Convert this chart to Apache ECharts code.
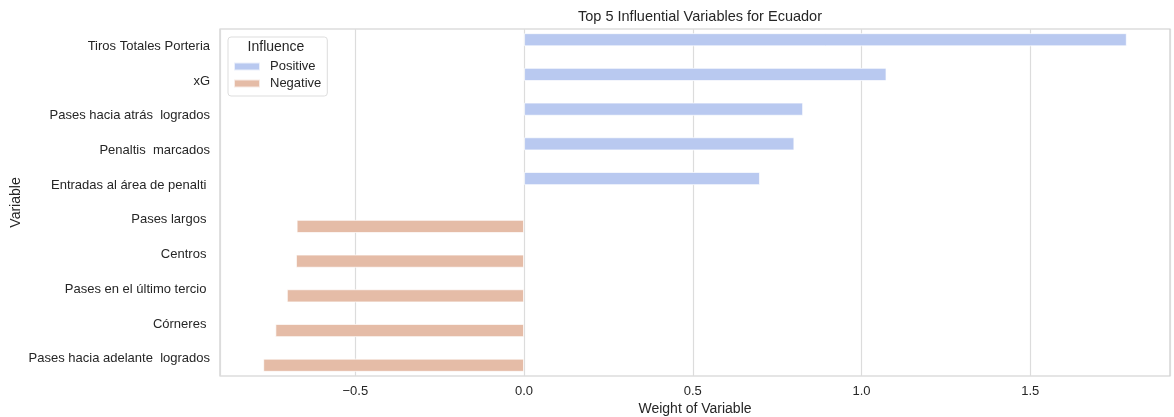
<!DOCTYPE html>
<html>
<head>
<meta charset="utf-8">
<script src="https://cdn.jsdelivr.net/npm/echarts@6/dist/echarts.min.js"></script>
<style>
  html, body { margin: 0; padding: 0; background: #fff; }
  #chart { width: 1174px; height: 417px; }
</style>
</head>
<body>
<div id="chart"></div>
<script>
const categories = [
  "Tiros Totales Porteria",
  "xG",
  "Pases hacia atrás  logrados",
  "Penaltis  marcados",
  "Entradas al área de penalti ",
  "Pases largos ",
  "Centros ",
  "Pases en el último tercio ",
  "Córneres ",
  "Pases hacia adelante  logrados"
];
const positiveValues = [1.786, 1.074, 0.827, 0.801, 0.699, null, null, null, null, null];
const negativeValues = [null, null, null, null, null, -0.674, -0.676, -0.703, -0.737, -0.773];
const seriesNames = ["Positive", "Negative"];
const xMin = -0.901, xMax = 1.914;

const FONT = "Liberation Sans";
const TXT = "#262626";

const chart = echarts.init(document.getElementById('chart'));
chart.setOption({
  animation: false,
  textStyle: { fontFamily: FONT },
  title: [{
    text: "Top 5 Influential Variables for Ecuador",
    left: 695, top: 4, textAlign: 'center',
    textStyle: { fontFamily: FONT, fontSize: 14.5, fontWeight: 'normal', color: TXT }
  }],
  grid: {
    left: 220, right: 4, top: 29, bottom: 41,
    outerBoundsMode: 'none', containLabel: false,
    show: true, borderColor: '#cccccc', borderWidth: 1.2, backgroundColor: 'transparent'
  },
  legend: {
    data: seriesNames,
    orient: 'vertical',
    left: 228, top: 37,
    padding: [22, 6, 5, 5],
    itemWidth: 26, itemHeight: 8, itemGap: 2,
    icon: 'rect',
    backgroundColor: '#fff',
    borderColor: '#dddddd', borderWidth: 1, borderRadius: 3,
    textStyle: { fontFamily: FONT, fontSize: 13, color: TXT, lineHeight: 15, padding: [0, 0, 0, 5] }
  },
  graphic: [{
    type: 'text', x: 276, y: 47, z: 100,
    style: { text: "Influence", fontFamily: FONT, fontSize: 14, fill: TXT, textAlign: 'center', textVerticalAlign: 'middle' }
  }],
  xAxis: {
    type: 'value', min: xMin, max: xMax, splitNumber: 5,
    name: "Weight of Variable", nameLocation: 'middle', nameGap: 26, nameMoveOverlap: false,
    nameTextStyle: { fontFamily: FONT, fontSize: 14, color: TXT },
    axisLine: { show: false }, axisTick: { show: false },
    axisLabel: {
      showMinLabel: false, showMaxLabel: false, margin: 9,
      fontFamily: FONT, fontSize: 13, color: TXT,
      formatter: v => v.toFixed(1).replace('-', '\u2212')
    },
    splitLine: { show: true, lineStyle: { color: '#dcdcdc', width: 1.2 } }
  },
  yAxis: {
    type: 'category', data: categories, inverse: true,
    name: "Variable", nameLocation: 'middle', nameRotate: 90, nameGap: 197, nameMoveOverlap: false,
    nameTextStyle: { fontFamily: FONT, fontSize: 14, color: TXT },
    axisLine: { show: false }, axisTick: { show: false },
    axisLabel: { margin: 10, fontFamily: FONT, fontSize: 13, color: TXT },
    splitLine: { show: false }
  },
  series: [
    {
      name: seriesNames[0], type: 'bar', data: positiveValues,
      barGap: '0%', barCategoryGap: '24%',
      itemStyle: { color: '#b9c9f0', borderColor: 'rgba(255,255,255,0.7)', borderWidth: 1 }
    },
    {
      name: seriesNames[1], type: 'bar', data: negativeValues,
      barGap: '0%', barCategoryGap: '24%',
      itemStyle: { color: '#e5bca7', borderColor: 'rgba(255,255,255,0.7)', borderWidth: 1 }
    }
  ]
});
</script>
</body>
</html>
